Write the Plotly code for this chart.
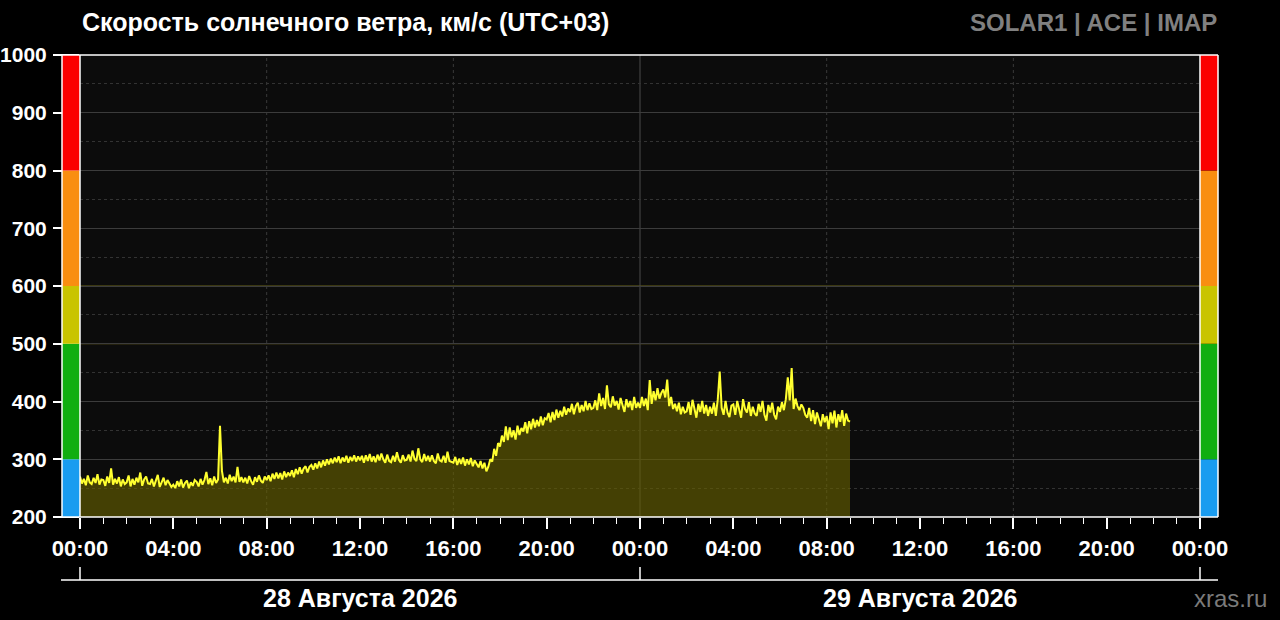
import pandas as pd
import plotly.graph_objects as go

# ---------------- data (5-minute samples, km/s, UTC+03) ----------------
start_time = "2026-08-28 00:00"
step = "5min"
speed_rows = [
    [270, 258, 266, 255, 272, 260, 257, 268, 259, 274, 256, 265],  # 28 Aug 00h
    [264, 254, 270, 259, 284, 256, 266, 258, 269, 253, 265, 257],
    [260, 272, 253, 266, 256, 268, 260, 277, 254, 265, 270, 258],
    [257, 266, 253, 263, 273, 252, 261, 268, 255, 264, 258, 252],
    [256, 250, 262, 253, 265, 251, 259, 263, 250, 260, 254, 264],
    [261, 253, 266, 256, 264, 278, 257, 267, 255, 270, 259, 265],
    [358, 280, 260, 268, 258, 273, 262, 270, 260, 287, 261, 269],
    [260, 268, 258, 271, 262, 256, 269, 261, 272, 263, 259, 270],
    [264, 272, 262, 275, 266, 277, 267, 276, 265, 279, 269, 277],
    [271, 281, 269, 283, 274, 286, 275, 284, 288, 277, 287, 290],
    [282, 293, 284, 296, 286, 298, 289, 300, 291, 301, 293, 303],
    [295, 305, 293, 303, 296, 306, 294, 304, 297, 307, 296, 305],
    [298, 306, 294, 307, 297, 309, 296, 305, 295, 308, 298, 310],
    [300, 294, 308, 297, 295, 306, 296, 312, 299, 294, 307, 298],
    [299, 308, 296, 315, 301, 297, 319, 300, 295, 309, 297, 306],
    [296, 307, 297, 293, 310, 298, 296, 306, 294, 313, 297, 295],
    [294, 304, 290, 301, 292, 303, 289, 300, 291, 302, 288, 298],
    [291, 286, 297, 284, 294, 279, 287, 300, 296, 318, 306, 328],
    [322, 341, 330, 357, 333, 355, 338, 350, 334, 358, 342, 354],
    [348, 364, 345, 366, 352, 370, 355, 368, 357, 374, 359, 371],
    [369, 380, 364, 382, 368, 386, 372, 384, 374, 391, 377, 388],
    [382, 396, 378, 392, 398, 381, 394, 383, 401, 385, 397, 387],
    [389, 402, 385, 414, 392, 406, 387, 428, 395, 390, 409, 393],
    [401, 386, 406, 392, 382, 404, 390, 401, 385, 408, 389, 398],
    [389, 408, 392, 405, 385, 437, 396, 418, 402, 423, 405, 415],  # 29 Aug 00h
    [421, 407, 438, 392, 408, 387, 396, 383, 398, 378, 391, 381],
    [383, 399, 377, 403, 385, 372, 396, 382, 401, 379, 394, 375],
    [391, 379, 398, 375, 404, 452, 389, 377, 401, 381, 373, 393],
    [395, 377, 401, 383, 372, 404, 387, 381, 399, 375, 391, 379],
    [375, 396, 382, 401, 377, 367, 394, 381, 398, 377, 369, 391],
    [382, 399, 385, 404, 442, 402, 458, 387, 405, 392, 385, 395],
    [389, 377, 372, 389, 366, 385, 361, 381, 369, 357, 378, 364],
    [375, 352, 381, 362, 384, 355, 378, 365, 385, 358, 379, 367],
    [365],
]
speed = [v for row in speed_rows for v in row]
times = pd.date_range(start_time, periods=len(speed), freq=step)

x_range = ["2026-08-28 00:00", "2026-08-30 00:00"]
y_ticks = [200, 300, 400, 500, 600, 700, 800, 900, 1000]
zone_bounds = [200, 300, 500, 600, 800, 1000]
zone_colors = ["#1a9cf0", "#10ae10", "#c9c400", "#f98e10", "#fb0000"]
special_grid = {500: "#6a5c12", 600: "#6a6418", 800: "#7a1515"}
day_lines = ["2026-08-29 00:00"]
dot_lines = ["2026-08-28 08:00", "2026-08-28 16:00", "2026-08-29 08:00",
             "2026-08-29 16:00"]
day_labels = ["28 Августа 2026", "29 Августа 2026"]
title_text = "Скорость солнечного ветра, км/с (UTC+03)"
source_text = "SOLAR1 | ACE | IMAP"
site_text = "xras.ru"

# ---------------- figure ----------------
W, H = 1280, 620
L, R, T, B = 80, 80, 55, 103
pw, ph = W - L - R, H - T - B
def px_x(px):
    return (px - L) / pw
def px_y(py):
    return (H - B - py) / ph

FONT = "Liberation Sans, Arial, sans-serif"

fig = go.Figure()
fig.add_trace(go.Scatter(
    x=times, y=speed, mode="lines",
    line=dict(color="#ffff30", width=2),
    fill="tozeroy", fillcolor="rgba(104,97,0,0.62)",
    hoverinfo="skip", showlegend=False,
))

shapes = []
for val, col in special_grid.items():
    shapes.append(dict(type="line", xref="paper", yref="y", x0=0, x1=1, y0=val, y1=val,
                       line=dict(color=col, width=1.2), layer="below"))
for d in day_lines:
    shapes.append(dict(type="line", xref="x", yref="paper", x0=d, x1=d, y0=0, y1=1,
                       line=dict(color="#4a4a4a", width=1), layer="below"))
for d in dot_lines:
    shapes.append(dict(type="line", xref="x", yref="paper", x0=d, x1=d, y0=0, y1=1,
                       line=dict(color="#3a3a3a", width=1, dash="dot"), layer="below"))
bx0, bx1 = px_x(62), 0
rx0, rx1 = 1, px_x(1218)
for i, col in enumerate(zone_colors):
    for a, b in ((bx0, bx1), (rx0, rx1)):
        shapes.append(dict(type="rect", xref="paper", yref="y", x0=a, x1=b,
                           y0=zone_bounds[i], y1=zone_bounds[i + 1],
                           fillcolor=col, line=dict(width=0), layer="above"))
for xx in (bx0, 0, 1, rx1):
    shapes.append(dict(type="line", xref="paper", yref="paper", x0=xx, x1=xx, y0=0, y1=1,
                       line=dict(color="#ffffff", width=1.5), layer="above"))
for yy in (0, 1):
    shapes.append(dict(type="line", xref="paper", yref="paper", x0=bx0, x1=rx1, y0=yy, y1=yy,
                       line=dict(color="#ffffff", width=1.5), layer="above"))
yb = px_y(580)
shapes.append(dict(type="line", xref="paper", yref="paper", x0=px_x(61), x1=px_x(1218),
                   y0=yb, y1=yb, line=dict(color="#ffffff", width=1.5)))
for xx in (0, 0.5, 1):
    shapes.append(dict(type="line", xref="paper", yref="paper", x0=xx, x1=xx,
                       y0=yb, y1=px_y(567), line=dict(color="#ffffff", width=1.5)))

annotations = [
    dict(text=title_text, xref="paper", yref="paper", x=0, y=px_y(22),
         xanchor="left", yanchor="middle", showarrow=False,
         font=dict(family=FONT, size=25, color="#ffffff", weight="bold")),
    dict(text=source_text, xref="paper", yref="paper", x=px_x(1219), y=px_y(22),
         xanchor="right", yanchor="middle", showarrow=False,
         font=dict(family=FONT, size=24, color="#808080", weight="bold")),
    dict(text=site_text, xref="paper", yref="paper", x=px_x(1269), y=px_y(598),
         xanchor="right", yanchor="middle", showarrow=False,
         font=dict(family=FONT, size=24, color="#7a7a7a")),
]
for i, lab in enumerate(day_labels):
    annotations.append(dict(text=lab, xref="paper", yref="paper", x=0.25 + 0.5 * i,
                            y=px_y(598), xanchor="center", yanchor="middle", showarrow=False,
                            font=dict(family=FONT, size=25, color="#ffffff", weight="bold")))

tickfont = dict(family=FONT, size=22, color="#ffffff", weight="bold")
ytickfont = dict(family=FONT, size=21, color="#ffffff", weight="bold")
fig.update_layout(
    width=W, height=H,
    margin=dict(l=L, r=R, t=T, b=B, pad=0, autoexpand=False),
    paper_bgcolor="#000000", plot_bgcolor="#0c0c0c",
    showlegend=False,
    shapes=shapes, annotations=annotations,
    xaxis=dict(
        type="date", range=x_range, tickformat="%H:%M", dtick=4 * 3600 * 1000,
        tick0="2026-08-28 00:00", ticks="outside", ticklen=11, tickwidth=1.5,
        tickcolor="#ffffff", tickfont=tickfont, showgrid=False, zeroline=False,
        showline=False, ticklabelstandoff=1, automargin=False,
        minor=dict(dtick=3600 * 1000, ticks="outside", ticklen=6, tickwidth=1.2,
                   tickcolor="#ffffff", showgrid=False),
    ),
    yaxis=dict(
        range=[200, 1000], tickvals=y_ticks, ticks="outside", ticklen=26,
        tickwidth=1.5, tickcolor="#ffffff", tickfont=ytickfont,
        showgrid=True, gridcolor="#3c3c3c", gridwidth=1, zeroline=False,
        showline=False, ticklabelstandoff=2, automargin=False,
        minor=dict(dtick=50, tick0=200, showgrid=True, gridcolor="#333333",
                   griddash="dot", ticks=""),
    ),
    yaxis2=dict(
        range=[200, 1000], tickvals=y_ticks, ticks="outside", ticklen=25,
        tickwidth=1.5, tickcolor="#ffffff", tickfont=ytickfont, overlaying="y",
        side="right", showgrid=False, zeroline=False, showline=False,
        ticklabelstandoff=3, automargin=False,
    ),
)

fig.write_html(
    "out.html",
    config={"displayModeBar": False},
    post_script="document.body.style.margin='0';document.body.style.background='#000';",
)
